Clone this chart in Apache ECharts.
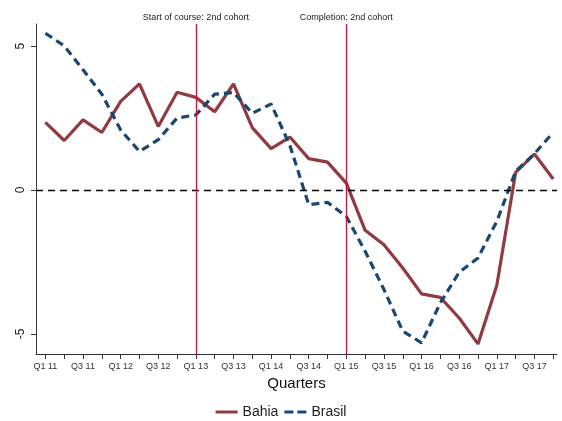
<!DOCTYPE html>
<html>
<head>
<meta charset="utf-8">
<script src="https://cdn.jsdelivr.net/npm/echarts@6/dist/echarts.min.js"></script>
<style>
  html, body { margin: 0; padding: 0; background: #fff; }
  #chart { width: 562px; height: 421px; }
</style>
</head>
<body>
<div id="chart"></div>
<script>
// quarters Q1 11 .. Q4 17
const quarters = [
  "Q1 11", "Q2 11", "Q3 11", "Q4 11",
  "Q1 12", "Q2 12", "Q3 12", "Q4 12",
  "Q1 13", "Q2 13", "Q3 13", "Q4 13",
  "Q1 14", "Q2 14", "Q3 14", "Q4 14",
  "Q1 15", "Q2 15", "Q3 15", "Q4 15",
  "Q1 16", "Q2 16", "Q3 16", "Q4 16",
  "Q1 17", "Q2 17", "Q3 17", "Q4 17"
];
const bahia = [
  2.35, 1.72, 2.44, 2.0, 3.08, 3.69, 2.21, 3.40,
  3.22, 2.72, 3.69, 2.17, 1.44, 1.84, 1.09, 0.97,
  0.24, -1.40, -1.90, -2.71, -3.61, -3.73, -4.45, -5.35,
  -3.31, 0.61, 1.25, 0.38
];
const brasil = [
  5.45, 5.01, 4.18, 3.33, 2.09, 1.34, 1.75, 2.50,
  2.61, 3.33, 3.39, 2.67, 2.99, 1.55, -0.51, -0.43,
  -0.92, -2.13, -3.46, -4.91, -5.31, -3.92, -2.86, -2.36,
  -1.09, 0.65, 1.26, 2.0
];
const yTicks = [-5, 0, 5];
const events = [
  { at: 8, text: "Start of course: 2nd cohort" },
  { at: 16, text: "Completion: 2nd cohort" }
];

const chart = echarts.init(document.getElementById("chart"));
const font = "Liberation Sans, Arial, sans-serif";
const tickIdx = quarters.map((q, i) => i);
const labelIdx = tickIdx.filter(i => i % 2 === 0);

chart.setOption({
  animation: false,
  textStyle: { fontFamily: font },
  grid: { left: 36, right: 5, top: 24, bottom: 67 },
  legend: {
    bottom: 2,
    padding: 0,
    left: "center",
    itemWidth: 22,
    itemHeight: 3,
    itemGap: 6,
    textStyle: { fontSize: 14, color: "#222", fontFamily: font },
    data: [
      { name: "Bahia", icon: "rect" },
      { name: "Brasil", icon: "path://M0,0h9v3h-9z M13,0h9v3h-9z" }
    ]
  },
  xAxis: {
    type: "value",
    min: -0.5,
    max: 27.2,
    name: "Quarters",
    nameLocation: "middle",
    nameGap: 22,
    nameTextStyle: { fontSize: 15, color: "#111", fontFamily: font },
    axisLine: { onZero: false, lineStyle: { color: "#333", width: 1 } },
    axisTick: { customValues: tickIdx, length: 5, lineStyle: { color: "#333" } },
    axisLabel: {
      customValues: labelIdx,
      formatter: v => quarters[Math.round(v)] || "",
      fontSize: 9,
      color: "#333",
      margin: 8
    },
    splitLine: { show: false }
  },
  yAxis: {
    type: "value",
    min: -5.7,
    max: 5.77,
    axisLine: { show: true, onZero: false, lineStyle: { color: "#333", width: 1 } },
    axisTick: { show: true, customValues: yTicks, length: 5, lineStyle: { color: "#333" } },
    axisLabel: {
      customValues: yTicks,
      rotate: 90,
      fontSize: 12,
      color: "#222",
      margin: 9
    },
    splitLine: { show: false }
  },
  series: [
    {
      name: "Bahia",
      type: "line",
      data: bahia.map((v, i) => [i, v]),
      symbol: "none",
      color: "#903a42",
      lineStyle: { color: "#903a42", width: 3.2 },
      z: 3,
      markLine: {
        silent: true,
        symbol: "none",
        animation: false,
        data: [
          {
            yAxis: 0,
            lineStyle: { color: "#000", type: [7, 5], width: 1.3 },
            label: { show: false }
          }
        ].concat(events.map(e => ({
          xAxis: e.at,
          lineStyle: { color: "#cc1236", type: "solid", width: 1.3 },
          label: {
            show: true,
            position: "end",
            formatter: e.text,
            fontSize: 9,
            color: "#222",
            distance: 2
          }
        })))
      }
    },
    {
      name: "Brasil",
      type: "line",
      data: brasil.map((v, i) => [i, v]),
      symbol: "none",
      color: "#1a476f",
      lineStyle: { color: "#1a476f", width: 3.2, type: [8, 5] },
      z: 4
    }
  ]
});
</script>
</body>
</html>
